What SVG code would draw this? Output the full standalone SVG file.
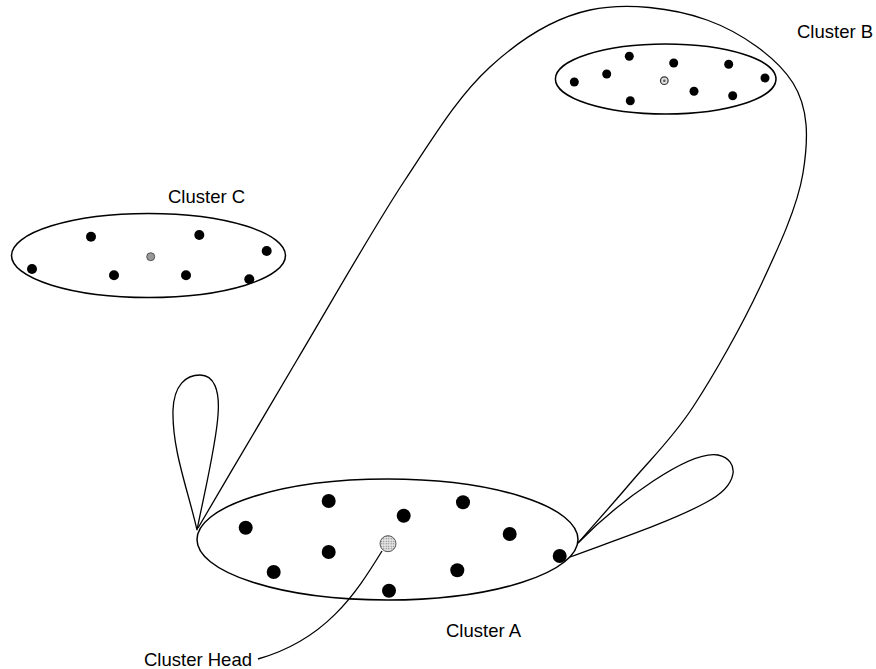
<svg xmlns="http://www.w3.org/2000/svg" width="876" height="669" viewBox="0 0 876 669">
<defs>
<pattern id="dotpat" width="2.5" height="2.5" patternUnits="userSpaceOnUse">
<rect width="2.5" height="2.5" fill="#e6e6e6"/>
<circle cx="1.25" cy="1.25" r="0.7" fill="#777"/>
</pattern>
</defs>
<style>
.cl{fill:none;stroke:#000;stroke-width:1.5}
.ln{fill:none;stroke:#000;stroke-width:1.3}
.n{fill:#000}
.lbl{font-family:"Liberation Sans",Arial,sans-serif;font-size:18.5px;fill:#000}
.hA{fill:url(#dotpat);stroke:#555;stroke-width:1}
.hB{fill:#ddd;stroke:#333;stroke-width:1.2}
.hC{fill:#999;stroke:#555;stroke-width:1}
</style>
<rect width="876" height="669" fill="#fff"/>

<g id="connectors">
<path class="ln" d="M198,528 C231,472 262.5,418 297,360 C331.5,302 372.8,228.8 405,180 C437.2,131.2 459.2,95.3 490,67 C520.8,38.7 553.8,17.8 590,10 C626.2,2.2 673.2,7.8 707,20 C740.8,32.2 777,57.5 793,83 C809,108.5 808.5,139 803,173 C797.5,207 778.3,248 760,287 C741.7,326 714.2,374.8 693,407 C671.8,439.2 652.2,457.3 633,480 C613.8,502.7 596.3,522 578,543"/>
<path class="ln" d="M197,530 C188,490 172,450 173,410 C174,385 186,375 200,375 C214,375 220,390 218,415 C216,445 205,490 197,530"/>
<path class="ln" d="M578,543 C620,500 690,450 718,455 C740,460 740,485 705,503 C670,522 610,542 570,557"/>
<path class="ln" d="M382,551 C355,595 325,640 258,659"/>
</g>

<g id="clusterA">
<ellipse class="cl" cx="387.5" cy="539.5" rx="190.5" ry="60.5"/>
<circle class="n" cx="245.7" cy="527.7" r="7"/>
<circle class="n" cx="328.7" cy="501" r="7"/>
<circle class="n" cx="403.7" cy="515.7" r="7"/>
<circle class="n" cx="463" cy="502.3" r="7"/>
<circle class="n" cx="509.7" cy="534" r="7"/>
<circle class="n" cx="328.7" cy="552" r="7"/>
<circle class="n" cx="273.7" cy="572" r="7"/>
<circle class="n" cx="389" cy="590.7" r="7"/>
<circle class="n" cx="457.3" cy="570.3" r="7"/>
<circle class="n" cx="559.7" cy="556" r="7"/>
<circle class="hA" cx="388" cy="543.7" r="8"/>
<text class="lbl" x="446" y="637">Cluster A</text>
</g>

<g id="clusterB">
<ellipse class="cl" cx="665.7" cy="79" rx="110.3" ry="35"/>
<circle class="n" cx="574.3" cy="82" r="4.5"/>
<circle class="n" cx="606.7" cy="74" r="4.5"/>
<circle class="n" cx="629.3" cy="56.3" r="4.5"/>
<circle class="n" cx="673.7" cy="63" r="4.5"/>
<circle class="n" cx="728.7" cy="64.3" r="4.5"/>
<circle class="n" cx="765" cy="78" r="4.5"/>
<circle class="n" cx="630.3" cy="100.7" r="4.5"/>
<circle class="n" cx="694" cy="91.3" r="4.5"/>
<circle class="n" cx="732.7" cy="95.7" r="4.5"/>
<circle class="hB" cx="664.3" cy="80.7" r="3.8"/>
<circle fill="#555" cx="664.3" cy="80.7" r="1.2"/>
<text class="lbl" x="797" y="37.5">Cluster B</text>
</g>

<g id="clusterC">
<ellipse class="cl" cx="148.5" cy="255.5" rx="137" ry="42"/>
<circle class="n" cx="91" cy="236.7" r="5"/>
<circle class="n" cx="199.3" cy="235" r="5"/>
<circle class="n" cx="266.7" cy="251" r="5"/>
<circle class="n" cx="32" cy="269" r="5"/>
<circle class="n" cx="114" cy="275.3" r="5"/>
<circle class="n" cx="186" cy="275.3" r="5"/>
<circle class="n" cx="249.3" cy="279.3" r="5"/>
<circle class="hC" cx="150.7" cy="256.7" r="4"/>
<text class="lbl" x="168" y="203">Cluster C</text>
</g>

<g id="clusterHeadLabel">
<text class="lbl" x="144" y="666">Cluster Head</text>
</g>
</svg>
